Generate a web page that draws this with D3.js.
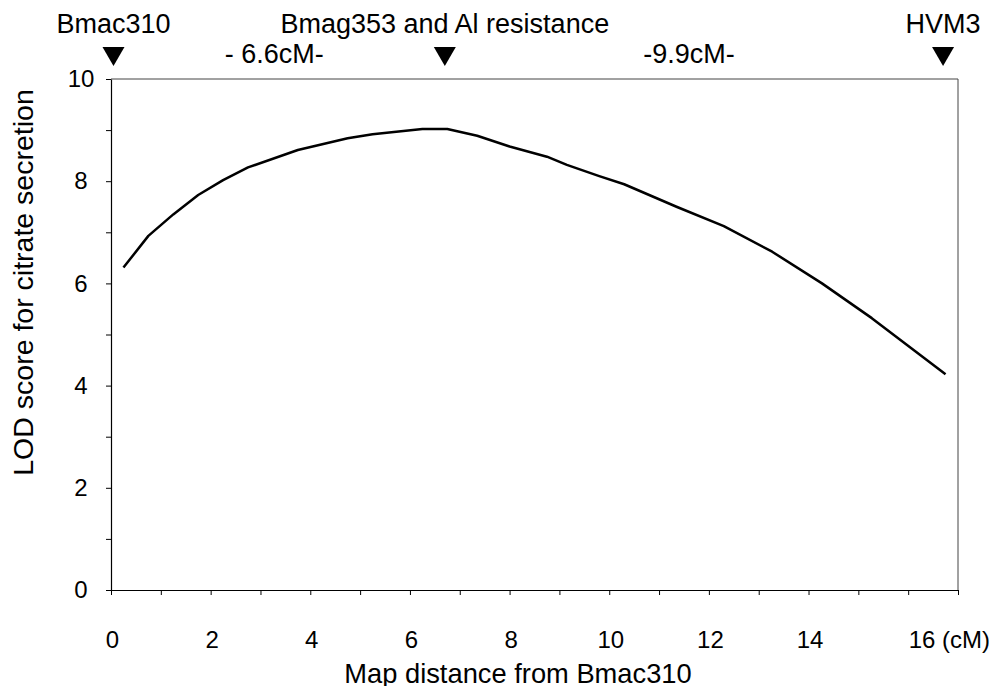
<!DOCTYPE html>
<html>
<head>
<meta charset="utf-8">
<script src="https://cdn.jsdelivr.net/npm/d3@7"></script>
<style>
    body { margin: 0; background: #fff; }
    text { font-family: Arial, "Liberation Sans", sans-serif; fill: #000; }
</style>
</head>
<body>
<div id="chart"></div>
<script>
// map position (cM) and LOD score along the interval
const positions = [0.25, 0.75, 1.25, 1.75, 2.25, 2.75, 3.75, 4.75, 5.25, 6.25, 6.75, 7.35, 8.0,
    8.75, 9.15, 9.8, 10.3, 11.35, 12.3, 13.27, 14.27, 15.27, 16.75];
const lodScores = [6.31, 6.93, 7.35, 7.73, 8.02, 8.27, 8.61, 8.84, 8.92, 9.02, 9.02, 8.89, 8.68,
    8.48, 8.32, 8.10, 7.94, 7.50, 7.12, 6.62, 6.00, 5.32, 4.22];

const markerNames = ['Bmac310', 'Bmag353 and Al resistance', 'HVM3'];
const markerPositions = [0.05, 6.7, 16.7];
const intervalLabels = ['- 6.6cM-', '-9.9cM-'];

const xTicks = d3.range(0, 18, 1);
const xTickLabels = ['0', '2', '4', '6', '8', '10', '12', '14', '16'];
const xUnit = '(cM)';
const yTicks = d3.range(0, 11, 1);
const yTickLabels = ['0', '2', '4', '6', '8', '10'];

const width = 989, height = 686;
const margin = { left: 111, top: 79, right: 31, bottom: 96 };

const svg = d3.select('#chart')
    .append('svg')
    .attr('width', width)
    .attr('height', height);

const x = d3.scaleLinear().domain([0, 17]).range([margin.left, width - margin.right]);
const y = d3.scaleLinear().domain([0, 10]).range([height - margin.bottom, margin.top]);

// frame (top and right borders)
svg.append('path')
    .attr('d', 'M' + x(0) + ',' + y(10) + 'H' + x(17) + 'V' + y(0))
    .attr('fill', 'none')
    .attr('stroke', '#444')
    .attr('stroke-width', 1);

// x axis: a tick every 1 cM, labels every 2
const xAxis = svg.append('g')
    .attr('transform', 'translate(0,' + y(0) + ')')
    .call(d3.axisBottom(x).tickValues(xTicks).tickSize(5).tickSizeOuter(0)
        .tickFormat(d => d % 2 === 0 ? xTickLabels[d / 2] : ''));

xAxis.selectAll('text')
    .attr('dy', null)
    .attr('y', 58)
    .attr('x', 1)
    .style('font-size', '24px');

// the last label carries the unit, written to the right of "16"
xAxis.selectAll('.tick')
    .filter(d => d === 16)
    .select('text')
    .attr('text-anchor', 'start')
    .attr('x', 0)
    .text(xTickLabels[8] + ' ' + xUnit);

// y axis, labels centred in their column
const yAxis = svg.append('g')
    .attr('transform', 'translate(' + x(0) + ',0)')
    .call(d3.axisLeft(y).tickValues(yTicks).tickSize(5).tickSizeOuter(0)
        .tickFormat(d => d % 2 === 0 ? yTickLabels[d / 2] : ''));

yAxis.selectAll('text')
    .attr('x', -30)
    .attr('text-anchor', 'middle')
    .style('font-size', '24px');

[xAxis, yAxis].forEach(function(g) {
    g.select('.domain').attr('stroke', '#000').attr('stroke-width', 1.2);
    g.selectAll('.tick line').attr('stroke', '#000');
    g.attr('font-family', null).attr('font-size', null);
});

// LOD curve
const line = d3.line()
    .x((d, i) => x(positions[i]))
    .y(d => y(d));

svg.append('path')
    .datum(lodScores)
    .attr('d', line)
    .attr('fill', 'none')
    .attr('stroke', '#000')
    .attr('stroke-width', 2.5)
    .attr('stroke-linejoin', 'round');

// marker triangles and names above the plot
const markers = svg.append('g');

markers.selectAll('path')
    .data(markerPositions)
    .join('path')
    .attr('d', d => 'M' + (x(d) - 11) + ',47L' + (x(d) + 11) + ',47L' + x(d) + ',66Z')
    .attr('fill', '#000');

markers.selectAll('text.marker')
    .data(markerNames)
    .join('text')
    .attr('class', 'marker')
    .attr('x', (d, i) => x(markerPositions[i]))
    .attr('y', 33)
    .attr('text-anchor', 'middle')
    .style('font-size', '27px')
    .text(d => d);

markers.selectAll('text.interval')
    .data(intervalLabels)
    .join('text')
    .attr('class', 'interval')
    .attr('x', (d, i) => (x(markerPositions[i]) + x(markerPositions[i + 1])) / 2 - 5)
    .attr('y', 63)
    .attr('text-anchor', 'middle')
    .style('font-size', '27px')
    .text(d => d);

// axis titles
svg.append('text')
    .attr('x', 518)
    .attr('y', 683)
    .attr('text-anchor', 'middle')
    .style('font-size', '27.3px')
    .text('Map distance from Bmac310');

svg.append('text')
    .attr('transform', 'translate(33,' + (y(5) - 52) + ') rotate(-90)')
    .attr('text-anchor', 'middle')
    .style('font-size', '28.5px')
    .text('LOD score for citrate secretion');
</script>
</body>
</html>
